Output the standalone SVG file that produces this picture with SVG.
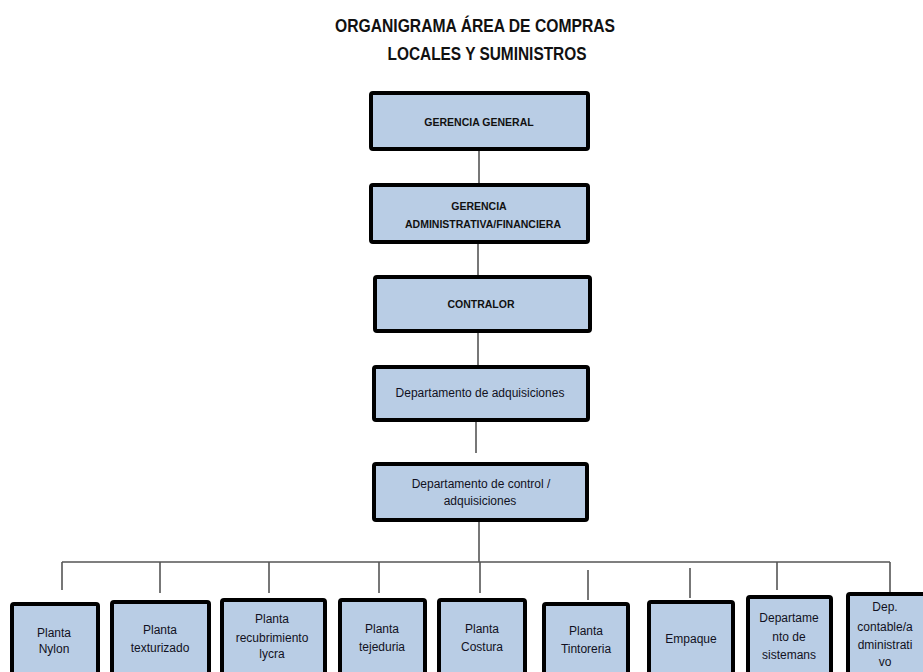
<svg xmlns="http://www.w3.org/2000/svg" width="923" height="672" viewBox="0 0 923 672">
  <style>
    .box { fill: #b9cde5; stroke: #000; stroke-width: 4; }
    .title { font-family: "Liberation Sans", Arial, sans-serif; font-weight: bold; font-size: 18px; fill: #111; text-anchor: middle; }
    .cap { font-family: "Liberation Sans", Arial, sans-serif; font-weight: bold; font-size: 10.5px; fill: #111; text-anchor: middle; }
    .lbl { font-family: "Liberation Sans", Arial, sans-serif; font-size: 12px; fill: #111122; text-anchor: middle; }
    .conn { stroke: #555; stroke-width: 1.6; fill: none; }
  </style>

  <!-- Title -->
  <text class="title" x="475" y="32" textLength="280" lengthAdjust="spacingAndGlyphs">ORGANIGRAMA ÁREA DE COMPRAS</text>
  <text class="title" x="487" y="60" textLength="199" lengthAdjust="spacingAndGlyphs">LOCALES Y SUMINISTROS</text>

  <!-- Connectors -->
  <g id="connectors">
    <line class="conn" x1="479" y1="151" x2="479" y2="183"/>
    <line class="conn" x1="478" y1="244" x2="478" y2="275"/>
    <line class="conn" x1="478" y1="333" x2="478" y2="365"/>
    <line class="conn" x1="476" y1="422" x2="476" y2="453"/>
    <line class="conn" x1="479" y1="522" x2="479" y2="562"/>
    <line class="conn" x1="62" y1="562" x2="890" y2="562"/>
    <line class="conn" x1="62" y1="562" x2="62" y2="590"/>
    <line class="conn" x1="160" y1="562" x2="160" y2="593"/>
    <line class="conn" x1="269" y1="562" x2="269" y2="593"/>
    <line class="conn" x1="379" y1="562" x2="379" y2="593"/>
    <line class="conn" x1="480" y1="562" x2="480" y2="593"/>
    <line class="conn" x1="588" y1="570" x2="588" y2="600"/>
    <line class="conn" x1="690" y1="568" x2="690" y2="598"/>
    <line class="conn" x1="777" y1="562" x2="777" y2="590"/>
    <line class="conn" x1="890" y1="562" x2="890" y2="592"/>
  </g>

  <!-- Top chain -->
  <g id="gerencia-general">
    <rect class="box" x="371" y="93" width="217" height="56" rx="2"/>
    <text class="cap" x="479" y="126">GERENCIA GENERAL</text>
  </g>
  <g id="gerencia-administrativa">
    <rect class="box" x="371" y="185" width="217" height="57" rx="2"/>
    <text class="cap" x="479" y="210">GERENCIA</text>
    <text class="cap" x="483" y="228">ADMINISTRATIVA/FINANCIERA</text>
  </g>
  <g id="contralor">
    <rect class="box" x="375" y="277" width="215" height="54" rx="2"/>
    <text class="cap" x="481" y="308">CONTRALOR</text>
  </g>
  <g id="dep-adquisiciones">
    <rect class="box" x="374" y="367" width="214" height="53" rx="2"/>
    <text class="lbl" x="480" y="397">Departamento de adquisiciones</text>
  </g>
  <g id="dep-control">
    <rect class="box" x="374" y="464" width="213" height="56" rx="2"/>
    <text class="lbl" x="481" y="488">Departamento de control /</text>
    <text class="lbl" x="480" y="505">adquisiciones</text>
  </g>

  <!-- Bottom row -->
  <g id="planta-nylon">
    <rect class="box" x="12" y="604" width="86" height="80" rx="2"/>
    <text class="lbl" x="54" y="637">Planta</text>
    <text class="lbl" x="54" y="653">Nylon</text>
  </g>
  <g id="planta-texturizado">
    <rect class="box" x="112" y="602" width="97" height="82" rx="2"/>
    <text class="lbl" x="160" y="634">Planta</text>
    <text class="lbl" x="160" y="652">texturizado</text>
  </g>
  <g id="planta-recubrimiento">
    <rect class="box" x="222" y="600" width="103" height="84" rx="2"/>
    <text class="lbl" x="272" y="623">Planta</text>
    <text class="lbl" x="272" y="642">recubrimiento</text>
    <text class="lbl" x="272" y="658">lycra</text>
  </g>
  <g id="planta-tejeduria">
    <rect class="box" x="340" y="600" width="85" height="84" rx="2"/>
    <text class="lbl" x="382" y="633">Planta</text>
    <text class="lbl" x="382" y="651">tejeduria</text>
  </g>
  <g id="planta-costura">
    <rect class="box" x="439" y="600" width="86" height="84" rx="2"/>
    <text class="lbl" x="482" y="633">Planta</text>
    <text class="lbl" x="482" y="651">Costura</text>
  </g>
  <g id="planta-tintoreria">
    <rect class="box" x="544" y="604" width="84" height="80" rx="2"/>
    <text class="lbl" x="586" y="635">Planta</text>
    <text class="lbl" x="586" y="653">Tintoreria</text>
  </g>
  <g id="empaque">
    <rect class="box" x="649" y="602" width="84" height="82" rx="2"/>
    <text class="lbl" x="691" y="643">Empaque</text>
  </g>
  <g id="dep-sistemas">
    <rect class="box" x="748" y="597" width="83" height="87" rx="2"/>
    <text class="lbl" x="789" y="622">Departame</text>
    <text class="lbl" x="789" y="641">nto de</text>
    <text class="lbl" x="789" y="659">sistemans</text>
  </g>
  <g id="dep-contable">
    <rect class="box" x="848" y="594" width="84" height="90" rx="2"/>
    <text class="lbl" x="885" y="611">Dep.</text>
    <text class="lbl" x="885" y="631">contable/a</text>
    <text class="lbl" x="885" y="649">dministrati</text>
    <text class="lbl" x="885" y="666">vo</text>
  </g>
</svg>
